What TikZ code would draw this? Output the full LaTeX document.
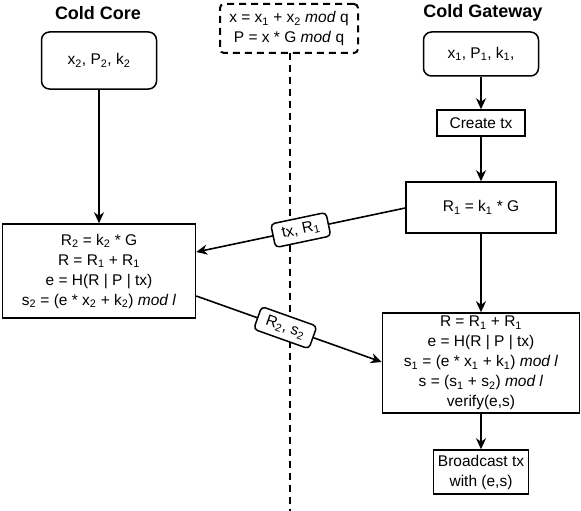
\documentclass[tikz,border=0pt]{standalone}
\usepackage{fontspec}
\setmainfont{Liberation Sans}
\usetikzlibrary{arrows.meta}
\newcommand{\sbs}[1]{\textsubscript{#1}}
\begin{document}
\begin{tikzpicture}[x=1pt,y=-1pt,
  box/.style={draw,line width=1.5pt,align=center,inner sep=0pt,font=\fontsize{15.5}{20}\selectfont},
  rbox/.style={box,rounded corners=8pt},
  title/.style={font=\fontsize{18}{21}\selectfont\bfseries},
  arr/.style={-{Stealth[length=11pt,width=10pt,inset=3.5pt]},line width=1.6pt},
  lbl/.style={draw,line width=1.5pt,rounded corners=4pt,fill=white,font=\fontsize{15.5}{18}\selectfont,inner xsep=9pt,inner ysep=3pt,minimum height=24pt,sloped},
  dsh/.style={line width=2pt,dash pattern=on 7pt off 5pt}]
\useasboundingbox (0,0) rectangle (581,511);
\node[title] (t1) at (98,13) {Cold Core};
\node[title] (t2) at (483,13) {Cold Gateway};
\node[box,dsh,rounded corners=4pt,minimum width=138pt,minimum height=49pt] (q) at (289,28.5) {x = x\sbs{1} + x\sbs{2} \textit{mod} q\\P = x * G \textit{mod} q};
\coordinate (qb) at (290,53);
\coordinate (bot) at (290,511);
\draw[dsh] (qb) -- (bot);
\node[rbox,minimum width=115pt,minimum height=57pt] (a) at (99,60.5) {x\sbs{2}, P\sbs{2}, k\sbs{2}};
\node[box,minimum width=193pt,minimum height=94pt] (b) at (99,271) {R\sbs{2} = k\sbs{2} * G\\R = R\sbs{1} + R\sbs{1}\\e = H(R | P | tx)\\s\sbs{2} = (e * x\sbs{2} + k\sbs{2}) \textit{mod l}};
\node[rbox,minimum width=115pt,minimum height=44pt] (c) at (481,54) {x\sbs{1}, P\sbs{1}, k\sbs{1},};
\node[box,minimum width=88pt,minimum height=26pt] (d) at (481,123) {Create tx};
\node[box,minimum width=150pt,minimum height=51pt] (e) at (481,207.5) {R\sbs{1} = k\sbs{1} * G};
\node[box,minimum width=197pt,minimum height=100pt] (f) at (481,363) {R = R\sbs{1} + R\sbs{1}\\e = H(R | P | tx)\\s\sbs{1} = (e * x\sbs{1} + k\sbs{1}) \textit{mod l}\\s = (s\sbs{1} + s\sbs{2}) \textit{mod l}\\verify(e,s)};
\node[box,minimum width=95pt,minimum height=44pt] (g) at (481,472) {Broadcast tx\\with (e,s)};
\draw[arr] (a.south) -- (b.north);
\draw[arr] (c.south) -- (d.north);
\draw[arr] (d.south) -- (e.north);
\draw[arr] (e.south) -- (f.north);
\draw[arr] (f.south) -- (g.north);
\draw[arr] (e.west |- 0,208) -- node[lbl] {tx, R\sbs{1}} (b.east |- 0,252);
\draw[arr] (b.east |- 0,296) -- node[lbl,pos=0.48] {R\sbs{2}, s\sbs{2}} (f.west |- 0,362);
\end{tikzpicture}
\end{document}
